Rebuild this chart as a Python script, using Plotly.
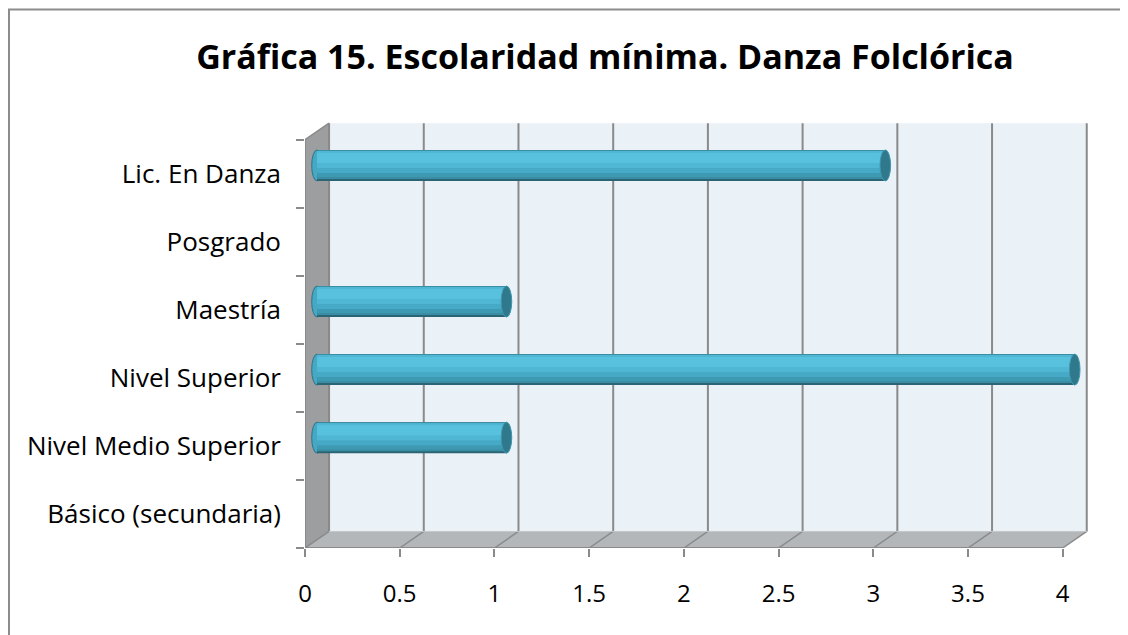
import plotly.graph_objects as go

# ---------------- data ----------------
categories = ["Básico (secundaria)", "Nivel Medio Superior", "Nivel Superior",
              "Maestría", "Posgrado", "Lic. En Danza"]
values = [0, 1, 4, 1, 0, 3]
x_ticks = [0, 0.5, 1, 1.5, 2, 2.5, 3, 3.5, 4]
x_tick_labels = ["0", "0.5", "1", "1.5", "2", "2.5", "3", "3.5", "4"]
title_text = "Gráfica 15. Escolaridad mínima. Danza Folclórica"

# ---------------- layout geometry ----------------
# page body has an 8px margin, so figure pixel = window pixel - 8
OFF = 8
W, H = 1128, 635
L = 305 - OFF
T = 122 - OFF
R = W - (1093 - OFF)
B = H - (548 - OFF)
XMAX = 4.16
YMIN, YMAX = -0.5, 5.76
DX = 0.127   # depth offset (x units)
DY = 0.243   # depth offset (category units)
xmax_val = max(x_ticks)
n = len(categories)
y_lo, y_hi = -0.5, n - 0.5
PXY = 426 / (YMAX - YMIN)  # pixels per category unit

grid_col = "#8a8a8a"
FONT = "Open Sans"

fig = go.Figure()

# cylinder-like bars: layered overlays (pixel bands measured from bar top)
BAR_PX = 31
pos = [i + DY / 2 for i in range(n)]
bands = [(0, 31, "#2b6575"), (0, 29, "#3a8ea4"), (1, 27, "#3e9ab3"),
         (1, 23, "#46aac6"), (1, 18, "#4fb7d4"), (3, 13, "#58c1de")]
for a, b, col in bands:
    top_off = BAR_PX / 2 / PXY
    shift = top_off - (a + b) / 2 / PXY
    fig.add_trace(go.Bar(
        orientation="h", y=[p + shift for p in pos], x=values,
        base=[DX / 2] * n, width=(b - a) / PXY,
        marker=dict(color=col, line=dict(width=0)),
        hoverinfo="skip", showlegend=False))

shapes = []
# back wall
shapes.append(dict(type="rect", xref="x", yref="y", layer="below",
                   x0=DX, x1=xmax_val + DX, y0=y_lo + DY, y1=y_hi + DY,
                   fillcolor="#eaf1f7", line=dict(width=0)))
# floor
shapes.append(dict(type="path", xref="x", yref="y", layer="below",
                   path=f"M 0,{y_lo} L {xmax_val},{y_lo} L {xmax_val+DX},{y_lo+DY} L {DX},{y_lo+DY} Z",
                   fillcolor="#b4b7ba", line=dict(width=0)))
# left wall
shapes.append(dict(type="path", xref="x", yref="y", layer="below",
                   path=f"M 0,{y_lo} L {DX},{y_lo+DY} L {DX},{y_hi+DY} L 0,{y_hi} Z",
                   fillcolor="#9c9ea0", line=dict(width=0)))
# gridlines on back wall & floor
for v in x_ticks:
    shapes.append(dict(type="line", xref="x", yref="y", layer="below",
                       x0=v + DX, x1=v + DX, y0=y_lo + DY, y1=y_hi + DY,
                       line=dict(color=grid_col, width=2)))
    shapes.append(dict(type="line", xref="x", yref="y", layer="below",
                       x0=v, x1=v + DX, y0=y_lo, y1=y_lo + DY,
                       line=dict(color=grid_col, width=1.5)))
# edges
shapes.append(dict(type="line", xref="x", yref="y", layer="below",
                   x0=0, x1=0, y0=y_lo, y1=y_hi, line=dict(color=grid_col, width=2)))
shapes.append(dict(type="line", xref="x", yref="y", layer="below",
                   x0=0, x1=DX, y0=y_hi, y1=y_hi + DY, line=dict(color=grid_col, width=1.5)))
shapes.append(dict(type="line", xref="x", yref="y", layer="below",
                   x0=0, x1=xmax_val, y0=y_lo, y1=y_lo, line=dict(color=grid_col, width=2)))
shapes.append(dict(type="line", xref="x", yref="y", layer="below",
                   x0=DX, x1=xmax_val + DX, y0=y_lo + DY, y1=y_lo + DY,
                   line=dict(color="#c4c7ca", width=1)))

# bar end caps
cap_hw = 0.028
hh = BAR_PX / 2 / PXY
for i, v in enumerate(values):
    if v <= 0:
        continue
    yc = pos[i]
    shapes.append(dict(type="circle", xref="x", yref="y", layer="below",
                       x0=DX / 2 - cap_hw, x1=DX / 2 + cap_hw, y0=yc - hh, y1=yc + hh,
                       fillcolor="#45a8c4", line=dict(color="#2f7384", width=1)))
    xe = DX / 2 + v
    shapes.append(dict(type="circle", xref="x", yref="y", layer="above",
                       x0=xe - cap_hw, x1=xe + cap_hw, y0=yc - hh, y1=yc + hh,
                       fillcolor="#30798d", line=dict(color="#3e97b0", width=1)))

# outer chart border (figure pixel -> paper)
pw, ph = W - L - R, H - T - B
def px(xp): return (xp - L) / pw
def py(yp): return (H - B - yp) / ph
shapes.append(dict(type="rect", xref="paper", yref="paper", layer="below",
                   x0=px(1), x1=px(W + 20), y0=py(1.5), y1=py(H + 20),
                   line=dict(color="#8c8c8c", width=2), fillcolor="rgba(0,0,0,0)"))

fig.update_layout(
    width=W, height=H, margin=dict(l=L, r=R, t=T, b=B),
    paper_bgcolor="white", plot_bgcolor="rgba(0,0,0,0)",
    barmode="overlay", shapes=shapes,
    title=dict(text=f"<b>{title_text}</b>", xref="container", yref="container",
               x=(605 - OFF) / W, y=1 - (57 - OFF) / H, xanchor="center", yanchor="middle",
               font=dict(family=FONT, size=34, color="black")),
    xaxis=dict(range=[0, XMAX], tickvals=x_ticks, ticktext=x_tick_labels,
               showgrid=False, zeroline=False, showline=False,
               ticks="outside", ticklen=8, tickwidth=2, tickcolor=grid_col,
               ticklabelstandoff=16,
               tickfont=dict(family=FONT, size=24, color="black")),
    yaxis=dict(range=[YMIN, YMAX], tickvals=list(range(n)), ticktext=categories,
               showgrid=False, zeroline=False, showline=False, ticks="",
               minor=dict(tickvals=[k - 0.5 for k in range(n + 1)], ticks="outside",
                          ticklen=8, tickwidth=2, tickcolor=grid_col),
               ticklabelstandoff=23,
               tickfont=dict(family=FONT, size=26, color="black")),
)

fig.write_html("out.html")
